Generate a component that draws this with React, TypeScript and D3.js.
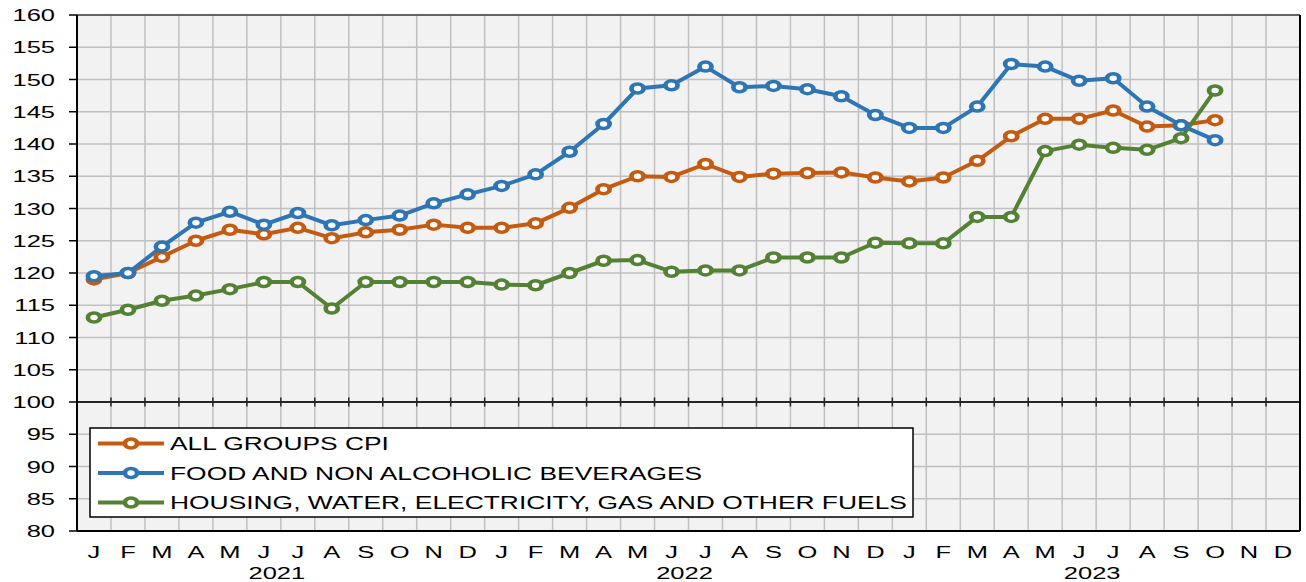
import React from "react";
import * as d3 from "d3";

const monthLetters = ["J", "F", "M", "A", "M", "J", "J", "A", "S", "O", "N", "D"];
const years = ["2021", "2022", "2023"];
const yTicks = [80, 85, 90, 95, 100, 105, 110, 115, 120, 125, 130, 135, 140, 145, 150, 155, 160];

const allGroups = [
  119.0, 120.0, 122.5, 125.0, 126.7, 126.0, 127.0, 125.4, 126.3, 126.7, 127.5, 127.0,
  127.0, 127.7, 130.1, 133.0, 135.0, 134.9, 136.9, 134.9, 135.4, 135.5, 135.6, 134.8,
  134.2, 134.8, 137.4, 141.2, 143.9, 143.9, 145.2, 142.7, 142.9, 143.7,
];
const food = [
  119.5, 120.0, 124.1, 127.8, 129.5, 127.5, 129.3, 127.4, 128.2, 128.9, 130.8, 132.2,
  133.5, 135.3, 138.8, 143.1, 148.6, 149.1, 152.0, 148.8, 149.0, 148.5, 147.4, 144.5,
  142.5, 142.5, 145.8, 152.4, 152.0, 149.8, 150.2, 145.8, 142.9, 140.6,
];
const housing = [
  113.1, 114.3, 115.7, 116.5, 117.5, 118.6, 118.6, 114.5, 118.6, 118.6, 118.6, 118.6,
  118.2, 118.1, 120.0, 121.9, 122.0, 120.2, 120.4, 120.4, 122.4, 122.4, 122.4, 124.7,
  124.6, 124.6, 128.7, 128.7, 138.9, 139.9, 139.4, 139.1, 140.9, 148.3,
];

const series = [
  { name: "ALL GROUPS CPI", values: allGroups, color: "#C55A11" },
  { name: "FOOD AND NON ALCOHOLIC BEVERAGES", values: food, color: "#2E75B6" },
  { name: "HOUSING, WATER, ELECTRICITY, GAS AND OTHER FUELS", values: housing, color: "#548235" },
];

const W = 1306, H = 582;
const left = 77, right = 1300, top = 15, bottom = 531;
const SX = 1.5; // the reference is stretched sideways
const font = "'Liberation Sans', Arial, sans-serif";

const slots = years.flatMap((yr) => monthLetters.map((m, i) => yr + "-" + i));

function Txt(props: { x: number; y: number; anchor?: string; size?: number; children: React.ReactNode }) {
  return (
    <text
      transform={`translate(${props.x},${props.y}) scale(${SX},1)`}
      textAnchor={props.anchor || "middle"}
      fontSize={props.size || 17}
      fill="#000"
    >
      {props.children}
    </text>
  );
}

function Marker(props: { x: number; y: number; color: string }) {
  return (
    <circle
      transform={`translate(${props.x},${props.y}) scale(1.35,1)`}
      r={4.5}
      fill="#fff"
      stroke={props.color}
      strokeWidth={3.5}
    />
  );
}

export default function App() {
  const x = d3.scaleBand().domain(slots).range([left, right]);
  const y = d3.scaleLinear().domain([80, 160]).range([bottom, top]);
  const bw = x.bandwidth();
  const cx = (i: number) => (x(slots[i]) as number) + bw / 2;
  const line = d3
    .line<number>()
    .x((d, i) => cx(i))
    .y((d) => y(d));

  const bounds = slots.slice(1).map((s) => x(s) as number);

  return (
    <svg width={W} height={H} style={{ position: "absolute", left: 0, top: 0 }} fontFamily={font}>
      <rect x={left} y={top} width={right - left} height={bottom - top} fill="#F2F2F2" />
      {/* grid */}
      {yTicks.map((t) => (
        <line key={"h" + t} x1={left} x2={right} y1={y(t)} y2={y(t)} stroke="#C0C0C0" strokeWidth={1.5} />
      ))}
      {bounds.map((b, i) => (
        <line key={"v" + i} x1={b} x2={b} y1={top} y2={bottom} stroke="#C0C0C0" strokeWidth={1.5} />
      ))}
      {/* 100 baseline with ticks */}
      <line x1={left} x2={right} y1={y(100)} y2={y(100)} stroke="#262626" strokeWidth={2} />
      {bounds.map((b, i) => (
        <line key={"t" + i} x1={b} x2={b} y1={y(100) - 4.5} y2={y(100) + 4.5} stroke="#262626" strokeWidth={1.5} />
      ))}
      {/* frame */}
      <line x1={left} x2={right} y1={top} y2={top} stroke="#404040" strokeWidth={1.5} />
      <line x1={right} x2={right} y1={top} y2={bottom} stroke="#000" strokeWidth={2} />
      <line x1={left} x2={right} y1={bottom} y2={bottom} stroke="#000" strokeWidth={2} />
      <line x1={left} x2={left} y1={top} y2={bottom} stroke="#000" strokeWidth={2} />
      {/* y axis */}
      {yTicks.map((t) => (
        <g key={"yl" + t}>
          <line x1={left - 8} x2={left} y1={y(t)} y2={y(t)} stroke="#000" strokeWidth={1.5} />
          <Txt x={55} y={y(t) + 6} anchor="end">
            {t}
          </Txt>
        </g>
      ))}
      {/* x axis labels */}
      {slots.map((s, i) => (
        <Txt key={"m" + i} x={cx(i)} y={558}>
          {monthLetters[i % 12]}
        </Txt>
      ))}
      {years.map((yr, k) => (
        <Txt key={yr} x={(x(slots[k * 12]) as number) + bw * 6 - 4} y={579}>
          {yr}
        </Txt>
      ))}
      {/* series */}
      {series.map((s) => (
        <path key={s.name} d={line(s.values) || ""} fill="none" stroke={s.color} strokeWidth={4} strokeLinejoin="round" />
      ))}
      {series.map((s) =>
        s.values.map((v, i) => <Marker key={s.name + i} x={cx(i)} y={y(v)} color={s.color} />)
      )}
      {/* legend */}
      <rect x={90} y={428} width={823} height={89} fill="#fff" stroke="#000" strokeWidth={1.5} />
      {series.map((s, i) => {
        const ly = 443.5 + i * 29.5;
        return (
          <g key={"lg" + i}>
            <line x1={98} x2={164} y1={ly} y2={ly} stroke={s.color} strokeWidth={4} />
            <Marker x={131} y={ly} color={s.color} />
            <Txt x={170} y={ly + 6.5} anchor="start" size={17.6}>
              {s.name}
            </Txt>
          </g>
        );
      })}
    </svg>
  );
}
